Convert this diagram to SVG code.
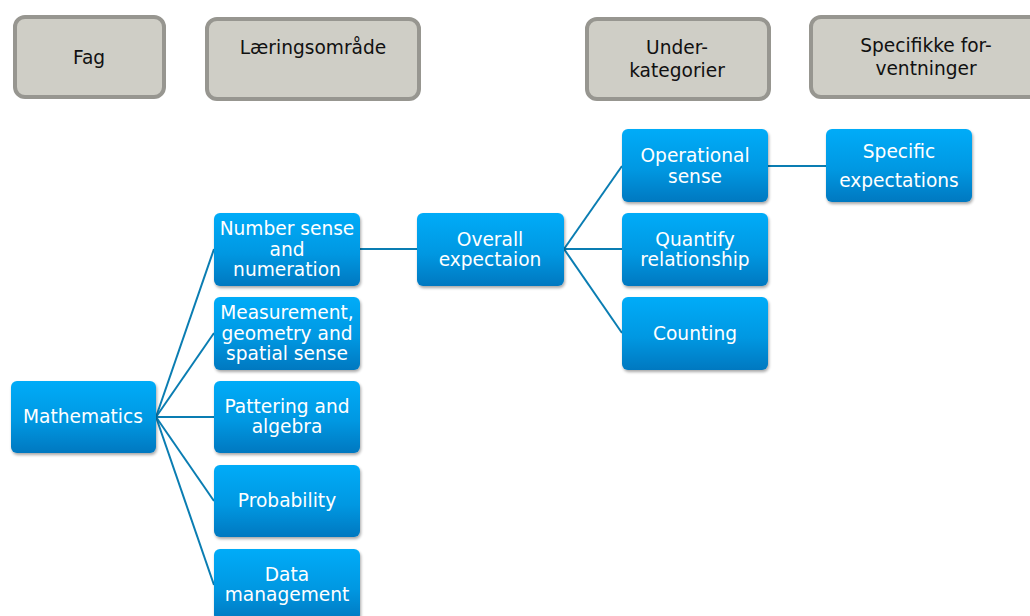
<svg xmlns="http://www.w3.org/2000/svg" width="1030" height="616" viewBox="0 0 1030 616">
  <defs>
    <linearGradient id="blueFill" x1="0" y1="0" x2="0" y2="1">
      <stop offset="0" stop-color="#02acf8"/>
      <stop offset="0.55" stop-color="#0298e2"/>
      <stop offset="1" stop-color="#0278c0"/>
    </linearGradient>
    <filter id="shadow" x="-10%" y="-10%" width="125%" height="130%">
      <feGaussianBlur in="SourceAlpha" stdDeviation="1.5"/>
      <feOffset dx="1" dy="2" result="b"/>
      <feComponentTransfer><feFuncA type="linear" slope="0.35"/></feComponentTransfer>
      <feMerge><feMergeNode/><feMergeNode in="SourceGraphic"/></feMerge>
    </filter>
  </defs>
  <style>
    .hdr rect { fill: #cfcec6; stroke: #979690; stroke-width: 4; }
    .hdr text { font-family: "DejaVu Sans", Verdana, sans-serif; font-size: 18.6px; fill: #111; text-anchor: middle; }
    .node rect { fill: url(#blueFill); filter: url(#shadow); }
    .node text { font-family: "DejaVu Sans", Verdana, sans-serif; font-size: 18.6px; fill: #ffffff; text-anchor: middle; }
    .links path { fill: none; stroke: #0a7db2; stroke-width: 2; }
  </style>
  <rect width="1030" height="616" fill="#ffffff"/>

  <!-- column headers -->
  <g id="hdr-fag" class="hdr">
    <rect x="15" y="17" width="149" height="80" rx="10"/>
    <text x="89" y="64">Fag</text>
  </g>
  <g id="hdr-laeringsomrade" class="hdr">
    <rect x="207" y="19" width="212" height="80" rx="10"/>
    <text x="313" y="54">Læringsområde</text>
  </g>
  <g id="hdr-underkategorier" class="hdr">
    <rect x="587" y="19" width="182" height="80" rx="10"/>
    <text x="677" y="54">Under-</text>
    <text x="677" y="77">kategorier</text>
  </g>
  <g id="hdr-specifikke" class="hdr">
    <rect x="811" y="17" width="240" height="80" rx="10"/>
    <text x="926" y="52">Specifikke for-</text>
    <text x="926" y="75">ventninger</text>
  </g>

  <!-- connectors -->
  <g id="connectors" class="links">
    <path d="M156,417 L214,249"/>
    <path d="M156,417 L214,333"/>
    <path d="M156,417 L214,417"/>
    <path d="M156,417 L214,501"/>
    <path d="M156,417 L214,585"/>
    <path d="M360,249 L417,249"/>
    <path d="M564,249 L622,166"/>
    <path d="M564,249 L622,249"/>
    <path d="M564,249 L622,333"/>
    <path d="M768,166 L826,166"/>
  </g>

  <!-- nodes -->
  <g id="n-mathematics" class="node">
    <rect x="11" y="381" width="145" height="72" rx="6"/>
    <text x="83" y="423">Mathematics</text>
  </g>
  <g id="n-number-sense" class="node">
    <rect x="214" y="213" width="146" height="73" rx="6"/>
    <text x="287" y="235">Number sense</text>
    <text x="287" y="256">and</text>
    <text x="287" y="276">numeration</text>
  </g>
  <g id="n-measurement" class="node">
    <rect x="214" y="297" width="146" height="73" rx="6"/>
    <text x="287" y="319">Measurement,</text>
    <text x="287" y="340">geometry and</text>
    <text x="287" y="360">spatial sense</text>
  </g>
  <g id="n-pattering" class="node">
    <rect x="214" y="381" width="146" height="72" rx="6"/>
    <text x="287" y="413">Pattering and</text>
    <text x="287" y="433">algebra</text>
  </g>
  <g id="n-probability" class="node">
    <rect x="214" y="465" width="146" height="72" rx="6"/>
    <text x="287" y="507">Probability</text>
  </g>
  <g id="n-data-management" class="node">
    <rect x="214" y="549" width="146" height="72" rx="6"/>
    <text x="287" y="581">Data</text>
    <text x="287" y="601">management</text>
  </g>
  <g id="n-overall" class="node">
    <rect x="417" y="213" width="147" height="73" rx="6"/>
    <text x="490" y="246">Overall</text>
    <text x="490" y="266">expectaion</text>
  </g>
  <g id="n-operational" class="node">
    <rect x="622" y="129" width="146" height="73" rx="6"/>
    <text x="695" y="162">Operational</text>
    <text x="695" y="183">sense</text>
  </g>
  <g id="n-quantify" class="node">
    <rect x="622" y="213" width="146" height="73" rx="6"/>
    <text x="695" y="246">Quantify</text>
    <text x="695" y="266">relationship</text>
  </g>
  <g id="n-counting" class="node">
    <rect x="622" y="297" width="146" height="73" rx="6"/>
    <text x="695" y="340">Counting</text>
  </g>
  <g id="n-specific" class="node">
    <rect x="826" y="129" width="146" height="73" rx="6"/>
    <text x="899" y="158">Specific</text>
    <text x="899" y="187">expectations</text>
  </g>
</svg>
